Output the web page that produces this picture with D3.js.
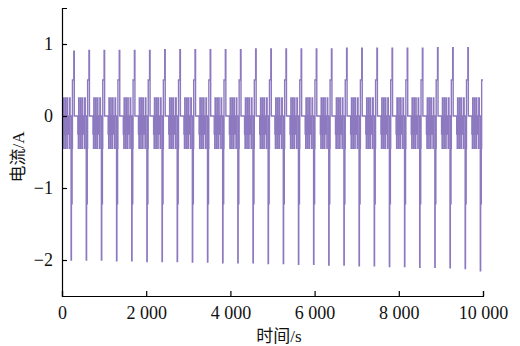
<!DOCTYPE html>
<html>
<head>
<meta charset="utf-8">
<script src="https://cdn.jsdelivr.net/npm/d3@7"></script>
<style>
  body { margin: 0; background: #fff; }
  text { font-family: "Liberation Serif", "Noto Sans CJK SC", serif; }
</style>
</head>
<body>
<svg id="chart" width="520" height="346"></svg>
<script>
// Tick values
const xTicks = [0, 2000, 4000, 6000, 8000, 10000];
const yTicks = [-2, -1, 0, 1];

// One test cycle (360 s): step durations (s) and current (A)
const cycleLength = 360;
const stepDur = [16, 12, 8, 8, 16, 12, 8, 8, 16, 12, 8, 8, 16, 24, 8, 12, 24, 8, 16, 8, 32, 12, 68];
const stepAmp = [0, -0.25, -0.45, 0.25, 0, -0.25, -0.45, 0.25, 0, -0.25, -0.45, 0.25, 0, -0.25, -0.45, 0.25, 0, -2.0, -1.22, -0.45, 0.5, 0.9, 0];
const lowStep = 17;   // the -2 A pulse
const highStep = 21;  // the ~0.9 A pulse

// Peak values of each cycle
const peakHigh = [0.90, 0.91, 0.91, 0.91, 0.91, 0.91, 0.92, 0.92, 0.92, 0.92, 0.92, 0.92, 0.93, 0.93,
                  0.93, 0.93, 0.93, 0.93, 0.94, 0.94, 0.94, 0.94, 0.94, 0.94, 0.95, 0.95, 0.95, 0.95];
const peakLow = [-2.00, -2.00, -2.00, -2.01, -2.01, -2.02, -2.02, -2.02, -2.03, -2.03, -2.04, -2.04, -2.04, -2.05,
                 -2.05, -2.06, -2.06, -2.07, -2.07, -2.08, -2.08, -2.09, -2.09, -2.10, -2.10, -2.11, -2.12, -2.15];

const tEnd = 10000;

// Build the step series from the cycle table
const series = [];
for (let k = 0; k * cycleLength < tEnd; k++) {
    let t = k * cycleLength;
    for (let i = 0; i < stepDur.length && t < tEnd; i++) {
        let v = stepAmp[i];
        if (i === lowStep) v = peakLow[k];
        if (i === highStep) v = peakHigh[k];
        series.push({t: t, v: v});
        t += stepDur[i];
    }
}
series.push({t: tEnd, v: series[series.length - 1].v});

const margin = {top: 8, right: 37, bottom: 50, left: 62},
    width = 520 - margin.left - margin.right,
    height = 346 - margin.top - margin.bottom;

const svg = d3.select("#chart")
    .append("g")
    .attr("transform", "translate(" + margin.left + "," + margin.top + ")");

const x = d3.scaleLinear().domain([0, tEnd]).range([0, width]);
const y = d3.scaleLinear().domain([-2.5, 1.5]).range([height, 0]);

const locale = d3.formatLocale({decimal: ".", thousands: " ", grouping: [3], currency: ["", ""], minus: "\u2212"});
const fmtX = locale.format(",d");
const fmtY = locale.format("d");

// Current trace
const valueLine = d3.line()
    .curve(d3.curveStepAfter)
    .x(d => x(d.t))
    .y(d => y(d.v));

svg.append("path")
    .datum(series)
    .attr("d", valueLine)
    .attr("fill", "none")
    .attr("stroke", "#8c79bf")
    .attr("stroke-width", 1.4);

// Axes, ticks pointing inward
const xAxis = svg.append("g")
    .attr("transform", "translate(0," + height + ")")
    .call(d3.axisBottom(x).tickValues(xTicks).tickFormat(fmtX)
        .tickSizeInner(-5).tickSizeOuter(-5).tickPadding(10));

const yAxis = svg.append("g")
    .call(d3.axisLeft(y).tickValues(yTicks).tickFormat(fmtY)
        .tickSizeInner(-5).tickSizeOuter(-5).tickPadding(9));

[xAxis, yAxis].forEach(function (g) {
    g.selectAll("path, line").attr("stroke", "#000").attr("stroke-width", 1.2);
    g.selectAll("text").attr("fill", "#111").attr("font-size", 18)
        .style("font-family", '"Liberation Serif", serif');
});

// Axis titles
svg.append("text")
    .attr("x", 217)
    .attr("y", 334)
    .attr("text-anchor", "middle")
    .attr("font-size", 17)
    .attr("fill", "#111")
    .text("时间/s");

svg.append("text")
    .attr("transform", "translate(" + (-38) + "," + 149 + ") rotate(-90)")
    .attr("text-anchor", "middle")
    .attr("font-size", 17)
    .attr("fill", "#111")
    .text("电流/A");
</script>
</body>
</html>
